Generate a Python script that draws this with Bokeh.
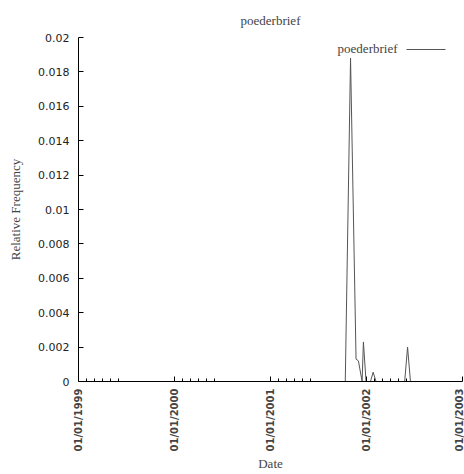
import math
from datetime import datetime
from bokeh.plotting import figure
from bokeh.models import (Range1d, FixedTicker, DatetimeTickFormatter, Label, Arrow)
from bokeh.embed import file_html
from bokeh.resources import INLINE

# ---- data ----
dates = ["1999-01-01", "2001-10-12", "2001-11-01", "2001-11-22", "2001-12-01",
         "2001-12-15", "2001-12-20", "2001-12-30", "2002-01-16", "2002-01-26",
         "2002-02-06", "2002-05-26", "2002-06-06", "2002-06-17", "2003-01-01"]
freqs = [0, 0, 0.0188, 0.0013, 0.0012, 0, 0.0023, 0, 0, 0.00054, 0, 0, 0.0020, 0, 0]

x_tick_dates = ["1999-01-01", "2000-01-01", "2001-01-01", "2002-01-01", "2003-01-01"]
x_minor_dates = [f"{y}-{m:02d}-01" for y in (1999, 2000, 2001, 2002) for m in (2, 3, 4, 5, 6)]
y_ticks = [0, 0.002, 0.004, 0.006, 0.008, 0.01, 0.012, 0.014, 0.016, 0.018, 0.02]
y_tick_labels = ["0", "0.002", "0.004", "0.006", "0.008", "0.01", "0.012", "0.014",
                 "0.016", "0.018", "0.02"]
series_name = "poederbrief"
title_text = "poederbrief"


def to_ms(s):
    return (datetime.strptime(s, "%Y-%m-%d") - datetime(1970, 1, 1)).total_seconds() * 1000.0


xs = [datetime.strptime(d, "%Y-%m-%d") for d in dates]

SERIF = "Liberation Serif"

p = figure(width=464, height=474, x_axis_type="datetime",
           output_backend="svg", toolbar_location=None,
           x_range=Range1d(datetime(1999, 1, 1), datetime(2003, 1, 1)),
           y_range=Range1d(0, 0.02),
           min_border_left=78, min_border_right=2, min_border_top=37,
           min_border_bottom=93)

p.title.text = title_text
p.title.align = "center"
p.title.vertical_align = "top"
p.title.text_font = SERIF
p.title.text_font_size = "13px"
p.title.text_font_style = "normal"
p.title.standoff = 16

p.grid.visible = False
p.outline_line_color = None

p.line(xs, freqs, line_color="#555555", line_width=1)

# x axis
xa = p.xaxis[0]
xa.ticker = FixedTicker(ticks=[to_ms(d) for d in x_tick_dates],
                        minor_ticks=[to_ms(d) for d in x_minor_dates])
fmt = "%d/%m/%Y"
xa.formatter = DatetimeTickFormatter(years=fmt, months=fmt, days=fmt, hours=fmt,
                                     hourmin=fmt, minutes=fmt, minsec=fmt,
                                     seconds=fmt, milliseconds=fmt, microseconds=fmt)
xa.major_label_orientation = math.pi / 2
xa.major_label_text_font = "DejaVu Sans"
xa.major_label_text_font_style = "bold"
xa.major_label_text_font_size = "10px"
xa.major_label_standoff = 7
xa.major_tick_in = 5
xa.major_tick_out = 0
xa.minor_tick_in = 3
xa.minor_tick_out = 0
xa.axis_label = "Date"
xa.axis_label_text_font = SERIF
xa.axis_label_text_font_size = "13px"
xa.axis_label_text_font_style = "normal"
xa.axis_label_standoff = 2
xa.axis_line_color = "black"

# y axis
ya = p.yaxis[0]
ya.ticker = FixedTicker(ticks=y_ticks)
ya.major_label_overrides = {t: l for t, l in zip(y_ticks, y_tick_labels)}
ya.major_label_text_font = "DejaVu Sans"
ya.major_label_text_font_size = "11px"
ya.major_label_text_color = "#222222"
ya.major_label_standoff = 9
ya.major_tick_in = 5
ya.major_tick_out = 0
ya.minor_tick_line_color = None
ya.axis_label = "Relative Frequency"
ya.axis_label_text_font = SERIF
ya.axis_label_text_font_size = "13px"
ya.axis_label_text_font_style = "normal"
ya.axis_label_standoff = 12

# legend (label then line sample, as in the reference)
p.add_layout(Label(x=319, y=333, x_units="screen", y_units="screen", text=series_name,
                   text_align="right", text_baseline="middle", text_font=SERIF,
                   text_font_size="13px"))
p.add_layout(Arrow(x_start=328, y_start=332, x_end=367, y_end=332,
                   start_units="screen", end_units="screen", end=None,
                   line_color="#555555", line_width=1))

open("out.html", "w").write(file_html(p, INLINE))
